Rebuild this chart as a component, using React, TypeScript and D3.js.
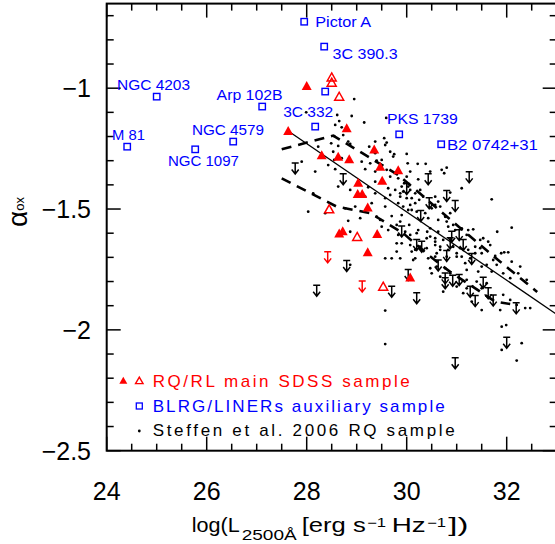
import React from 'react'
import * as d3 from 'd3'

const width = 555
const height = 544

// RQ/RL main SDSS sample (red)
const sdssFilled: [number, number][] = [
  [28.00, -0.991], [27.63, -1.177], [28.80, -1.166], [28.30, -1.277], [28.63, -1.284],
  [28.85, -1.294], [29.35, -1.253], [29.47, -1.325], [29.83, -1.339], [29.03, -1.391],
  [29.51, -1.383], [29.02, -1.438], [29.11, -1.438], [29.22, -1.493], [28.65, -1.601],
  [28.72, -1.592], [29.41, -1.603], [29.22, -1.679], [30.07, -1.783],
]
const sdssOpen: [number, number][] = [
  [28.50, -0.955], [28.50, -0.977], [28.65, -1.035], [28.45, -1.501], [29.01, -1.615], [29.53, -1.821],
]
const sdssLimits: [number, number][] = [[28.42, -1.700], [29.11, -1.821]]

// BLRG/LINERs auxiliary sample (blue)
const blrgNames = ['NGC 4203', 'M 81', 'NGC 1097', 'NGC 4579', 'Arp 102B', 'Pictor A', '3C 390.3', '3C 332', 'PKS 1739', 'B2 0742+31', '']
const blrgPoints: [number, number][] = [
  [25.00, -1.035], [24.41, -1.242], [25.77, -1.253], [26.53, -1.221], [27.11, -1.076],
  [27.95, -0.725], [28.35, -0.828], [28.17, -1.159], [29.85, -1.191], [30.69, -1.232], [28.37, -1.014],
]
// label placement relative to the square: dx, dy, text length (px)
const blrgLabelPos = [
  [-39.7, -6.7, 73], [-15.3, -6.7, 33], [-27.3, 16.7, 71], [-41.3, -6.7, 72], [-45.6, -6.7, 66],
  [11, 5, 56], [8.4, 12.3, 65], [-32, -9.7, 50], [-12.3, -10.3, 71], [5.7, 5.7, 91], [0, 0, 0],
]

// Steffen et al. 2006 RQ sample (black)
const steffenDots: [number, number][] = [
  [28.95, -1.045], [27.99, -1.100], [28.61, -1.111], [28.90, -1.115], [29.15, -1.142], [28.65, -1.136],
  [29.59, -1.123], [28.57, -1.152], [28.70, -1.162], [28.73, -1.194], [28.55, -1.198], [28.49, -1.228],
  [28.63, -1.239], [28.87, -1.231], [29.37, -1.221], [29.57, -1.235], [29.55, -1.207], [29.25, -1.242],
  [28.23, -1.242], [29.37, -1.269], [29.67, -1.263], [29.73, -1.283], [28.53, -1.263], [28.55, -1.297],
  [28.70, -1.290], [28.43, -1.318], [28.57, -1.335], [29.10, -1.304], [29.17, -1.335], [29.27, -1.311],
  [29.40, -1.300], [29.50, -1.297], [29.60, -1.338], [29.37, -1.345], [29.67, -1.366], [29.83, -1.373],
  [30.00, -1.366], [30.07, -1.345], [29.90, -1.407], [29.77, -1.421], [29.63, -1.414], [29.67, -1.442],
  [29.87, -1.449], [30.00, -1.455], [29.57, -1.455], [29.37, -1.435], [29.23, -1.410], [29.37, -1.387],
  [29.17, -1.449], [28.87, -1.421], [28.63, -1.407], [28.17, -1.345], [27.90, -1.304], [28.03, -1.511],
  [28.37, -1.517], [28.77, -1.497], [28.97, -1.490], [29.30, -1.476], [29.57, -1.490], [29.70, -1.529],
  [29.90, -1.525], [30.03, -1.504], [29.40, -1.532], [29.07, -1.538], [28.13, -1.435], [28.83, -1.549],
  [28.87, -1.594], [29.47, -1.545], [29.57, -1.704], [29.70, -1.704], [29.80, -1.676], [29.80, -1.642],
  [29.83, -1.607], [29.63, -1.587], [29.50, -1.573], [28.87, -1.731], [29.57, -1.920], [29.57, -2.059],
  [29.75, -1.273], [30.00, -1.272], [29.60, -1.225], [28.83, -1.221], [30.02, -1.311], [30.22, -1.313],
  [30.38, -1.313], [30.47, -1.345], [30.70, -1.338], [30.75, -1.352], [30.80, -1.329], [30.23, -1.377],
  [31.10, -1.414], [31.70, -1.460], [32.10, -1.577], [31.81, -1.594], [31.95, -1.679], [32.03, -1.679],
  [31.89, -1.683], [31.77, -1.694], [29.87, -1.435], [29.93, -1.428], [30.07, -1.421], [30.17, -1.435],
  [30.27, -1.421], [29.95, -1.393], [30.03, -1.407], [30.10, -1.455], [30.25, -1.462], [30.33, -1.449],
  [30.57, -1.449], [30.63, -1.469], [30.87, -1.432], [30.57, -1.483], [30.67, -1.490], [30.50, -1.497],
  [30.17, -1.476], [30.07, -1.483], [29.93, -1.490], [29.83, -1.476], [30.10, -1.504], [30.20, -1.511],
  [30.37, -1.517], [30.43, -1.538], [30.63, -1.545], [30.77, -1.532], [30.87, -1.517], [30.80, -1.552],
  [30.83, -1.573], [30.93, -1.566], [30.97, -1.587], [31.10, -1.580], [31.23, -1.587], [31.33, -1.584],
  [31.20, -1.607], [30.47, -1.580], [30.63, -1.594], [30.40, -1.621], [30.57, -1.621], [30.73, -1.628],
  [30.23, -1.587], [30.07, -1.607], [29.97, -1.594], [29.87, -1.552], [29.80, -1.566], [29.90, -1.642],
  [30.07, -1.649], [30.17, -1.669], [30.27, -1.656], [30.40, -1.662], [30.57, -1.649], [30.67, -1.669],
  [30.83, -1.669], [30.93, -1.656], [31.07, -1.662], [31.23, -1.669], [31.37, -1.656], [31.47, -1.628],
  [31.53, -1.621], [31.63, -1.635], [31.67, -1.649], [31.37, -1.683], [31.50, -1.683], [31.00, -1.697],
  [30.57, -1.697], [30.17, -1.704], [30.43, -1.704], [30.05, -1.566], [30.20, -1.600], [30.47, -1.745],
  [30.60, -1.683], [30.80, -1.697], [31.17, -1.724], [31.27, -1.704], [31.47, -1.662], [31.73, -1.711],
  [31.80, -1.731], [31.60, -1.731], [31.50, -1.738], [31.70, -1.759], [31.93, -1.766], [32.07, -1.786],
  [32.23, -1.766], [32.27, -1.738], [32.40, -1.793], [31.43, -1.759], [31.20, -1.752], [30.67, -1.780],
  [30.50, -1.766], [30.60, -1.738], [30.77, -1.745], [30.87, -1.766], [30.73, -1.842], [31.20, -1.793],
  [31.20, -1.828], [31.40, -1.800], [31.50, -1.828], [31.60, -1.807], [31.93, -1.855], [32.07, -1.876],
  [32.20, -1.897], [32.37, -1.910], [32.47, -1.910], [31.87, -1.918], [31.50, -1.918], [31.30, -1.883],
  [31.13, -1.848], [31.00, -1.821], [31.90, -1.987], [31.99, -1.980], [32.30, -2.055], [31.90, -2.083],
  [32.20, -2.127], [30.13, -1.711], [29.87, -1.704], [30.30, -1.669], [30.10, -1.676], [32.10, -1.718],
  [30.41, -1.594], [30.47, -1.614], [30.57, -1.635], [30.67, -1.656], [31.10, -1.697], [31.00, -1.683],
]
const steffenLimits: [number, number][] = [
  [27.77, -1.332], [28.73, -1.377], [28.80, -1.736], [29.90, -1.593], [30.00, -1.417], [30.20, -1.649],
  [28.20, -1.838], [29.70, -1.842], [30.03, -1.773], [30.20, -1.869], [30.43, -1.377], [31.25, -1.369],
  [30.80, -1.446], [30.97, -1.488], [30.45, -1.476], [30.28, -1.529], [30.30, -1.656], [30.90, -1.615],
  [31.05, -1.608], [31.13, -1.649], [30.87, -1.642], [30.80, -1.694], [30.63, -1.734], [31.30, -1.707],
  [30.77, -1.787], [30.77, -1.807], [30.92, -1.797], [31.05, -1.794], [31.53, -1.805], [31.27, -1.842],
  [31.37, -1.881], [31.63, -1.849], [31.73, -1.879], [32.19, -1.911], [32.00, -2.053], [30.97, -2.138],
]

// relations
const fitLine: [number, number][] = [[27.63, -1.177], [33.0, -1.936]]
const dashUpper: [number, number][] = [
  [27.50, -1.253], [28.53, -1.196], [29.83, -1.359], [31.00, -1.566], [31.87, -1.718], [32.61, -1.843],
]
const dashLower: [number, number][] = [
  [27.50, -1.373], [28.60, -1.490], [29.27, -1.517], [29.93, -1.600], [30.43, -1.690], [30.87, -1.760],
  [31.77, -1.883], [32.07, -1.893],
]

const xTicks = [24, 26, 28, 30, 32]
const yTicks = [-2.5, -2, -1.5, -1]
const legendLabels = ['RQ/RL main SDSS sample', 'BLRG/LINERs auxiliary sample', 'Steffen et al. 2006 RQ sample']

const font = "'Liberation Sans', Arial, Helvetica, sans-serif"
const RED = '#ff0000'
const BLUE = '#0000ff'

const tri = (cx: number, cy: number, w: number, h: number) =>
  `M${cx},${cy - h * 0.55}L${cx + w / 2},${cy + h * 0.45}L${cx - w / 2},${cy + h * 0.45}Z`

const limitPath = (cx: number, cy: number) =>
  `M${cx - 3.5},${cy - 5.5}H${cx + 3.5}M${cx},${cy - 5.5}V${cy + 5}M${cx - 3.5},${cy + 1}L${cx},${cy + 5.5}L${cx + 3.5},${cy + 1}`

const fmt = (v: number) => (v < 0 ? '\u2212' + String(Math.abs(v)) : String(v))

const App = () => {
  const x = d3.scaleLinear().domain([24, 33]).range([106.7, 556.7])
  const y = d3.scaleLinear().domain([-2.5, -0.65]).range([450.7, 3.6])
  const [x0, x1] = x.range()
  const [y0, y1] = y.range()

  const line = d3.line<[number, number]>().x(d => x(d[0])).y(d => y(d[1]))

  const xMinor = d3.range(0, 19).map(i => 24 + i * 0.5)
  const yMinor = d3.range(0, 19).map(i => -2.5 + i * 0.1)
  const isMajorX = (v: number) => Math.abs(v / 2 - Math.round(v / 2)) < 1e-6
  const isMajorY = (v: number) => Math.abs(v * 2 - Math.round(v * 2)) < 1e-6

  return (
    <svg width={width} height={height} style={{ position: 'absolute', left: 0, top: 0, background: '#fff' }}
      fontFamily={font}>
      <defs>
        <clipPath id="plot"><rect x={x0} y={y1} width={x1 - x0} height={y0 - y1} /></clipPath>
      </defs>

      {/* ticks */}
      <g stroke="#000" strokeWidth={1.5}>
        {xMinor.map((v, i) => {
          const L = isMajorX(v) ? 14 : 7
          return <g key={'xt' + i}>
            <line x1={x(v)} x2={x(v)} y1={y0} y2={y0 - L} />
            <line x1={x(v)} x2={x(v)} y1={y1} y2={y1 + L} />
          </g>
        })}
        {yMinor.map((v, i) => {
          const L = isMajorY(v) ? 14 : 7
          return <g key={'yt' + i}>
            <line x1={x0} x2={x0 + L} y1={y(v)} y2={y(v)} />
            <line x1={x1} x2={x1 - L} y1={y(v)} y2={y(v)} />
          </g>
        })}
      </g>
      <rect x={x0} y={y1} width={x1 - x0} height={y0 - y1} fill="none" stroke="#000" strokeWidth={2} />

      {/* tick labels */}
      {xTicks.map(v => (
        <text key={'xl' + v} x={x(v)} y={500} fontSize={25} textAnchor="middle">{v}</text>
      ))}
      {yTicks.map(v => (
        <text key={'yl' + v} x={91} y={y(v) + 9} fontSize={25} textAnchor="end">{fmt(v)}</text>
      ))}

      {/* axis titles */}
      <g fontSize={21}>
        <text x={191.7} y={532} textLength={48} lengthAdjust="spacingAndGlyphs">log(L</text>
        <text x={241.7} y={540} fontSize={15} textLength={55} lengthAdjust="spacingAndGlyphs">2500Å</text>
        <text x={301.7} y={532} textLength={64} lengthAdjust="spacingAndGlyphs">[erg s</text>
        <text x={367} y={527} fontSize={12} textLength={19} lengthAdjust="spacingAndGlyphs">{'\u22121'}</text>
        <text x={391.7} y={532} textLength={34} lengthAdjust="spacingAndGlyphs">Hz</text>
        <text x={427} y={527} fontSize={12} textLength={19} lengthAdjust="spacingAndGlyphs">{'\u22121'}</text>
        <text x={448.3} y={532} textLength={20} lengthAdjust="spacingAndGlyphs">])</text>
      </g>
      <text transform="translate(27,212) rotate(-90)" textAnchor="middle">
        <tspan fontSize={28}>α</tspan>
        <tspan fontSize={13} dy={-3}>ox</tspan>
      </text>

      <g clipPath="url(#plot)">
        {/* relations */}
        <path d={line(fitLine) || ''} fill="none" stroke="#000" strokeWidth={1.3} />
        <path d={line(dashUpper) || ''} fill="none" stroke="#000" strokeWidth={2.6} strokeDasharray="10,7" />
        <path d={line(dashLower) || ''} fill="none" stroke="#000" strokeWidth={2.6} strokeDasharray="10,7" />

        {/* Steffen sample */}
        {steffenDots.map((d, i) => (
          <circle key={'sd' + i} cx={x(d[0])} cy={y(d[1])} r={1.4} fill="#000" />
        ))}
        {steffenLimits.map((d, i) => (
          <path key={'sl' + i} d={limitPath(x(d[0]), y(d[1]))} fill="none" stroke="#000" strokeWidth={1.5} />
        ))}

        {/* SDSS sample */}
        {sdssFilled.map((d, i) => (
          <path key={'sf' + i} d={tri(x(d[0]), y(d[1]), 10, 9)} fill={RED} />
        ))}
        {sdssOpen.map((d, i) => (
          <path key={'so' + i} d={tri(x(d[0]), y(d[1]), 9, 8)} fill="none" stroke={RED} strokeWidth={1.5} />
        ))}
        {sdssLimits.map((d, i) => (
          <path key={'sr' + i} d={limitPath(x(d[0]), y(d[1]))} fill="none" stroke={RED} strokeWidth={1.5} />
        ))}

        {/* BLRG / LINERs */}
        {blrgPoints.map((d, i) => (
          <rect key={'bq' + i} x={x(d[0]) - 3.2} y={y(d[1]) - 3.2} width={6.4} height={6.4}
            fill="none" stroke={BLUE} strokeWidth={1.4} />
        ))}
      </g>
      {blrgNames.map((name, i) => name && (
        <text key={'bn' + i} x={x(blrgPoints[i][0]) + blrgLabelPos[i][0]} y={y(blrgPoints[i][1]) + blrgLabelPos[i][1]}
          fontSize={15.5} fill={BLUE} textLength={blrgLabelPos[i][2]} lengthAdjust="spacingAndGlyphs">{name}</text>
      ))}

      {/* legend */}
      <path d={tri(123.3, 380.7, 8, 7)} fill={RED} />
      <path d={tri(139.3, 380.7, 7.5, 6.5)} fill="none" stroke={RED} strokeWidth={1.4} />
      <rect x={136.3} y={403} width={6} height={6} fill="none" stroke={BLUE} strokeWidth={1.3} />
      <circle cx={139.3} cy={431} r={1.4} fill="#000" />
      {legendLabels.map((t, i) => (
        <text key={'lg' + i} x={152.7} y={[387, 411.7, 436][i]} fontSize={17}
          fill={[RED, BLUE, '#000'][i]} textLength={[257, 292, 302][i]} lengthAdjust="spacing">{t}</text>
      ))}
    </svg>
  )
}

export default App
